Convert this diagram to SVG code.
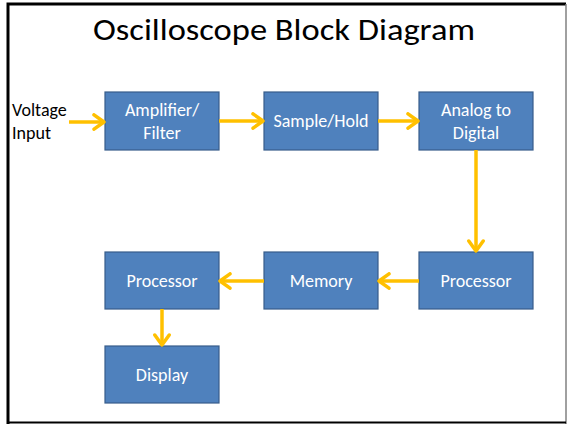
<svg xmlns="http://www.w3.org/2000/svg" width="568" height="424" viewBox="0 0 568 424">
<defs>
<style>
.box{fill:#4F81BD;stroke:#385D8A;stroke-width:1.2}
.lbl{font-family:Carlito,"Liberation Sans",Arial,sans-serif;font-size:18px;fill:#FFFFFF;text-anchor:middle}
.conn{stroke:#FFC000;stroke-width:3.5;fill:none;marker-end:url(#ah)}
</style>
<marker id="ah" viewBox="0 0 14 18" refX="12" refY="9" markerWidth="14" markerHeight="18" markerUnits="userSpaceOnUse" orient="auto">
<path d="M2,1.8 L12,9 L2,16.2" fill="none" stroke="#FFC000" stroke-width="3.5" stroke-linecap="round" stroke-linejoin="round"/>
</marker>
</defs>
<rect x="0" y="0" width="568" height="424" fill="#FFFFFF"/>
<path d="M8,424 L8,4 L566,4" fill="none" stroke="#000000" stroke-width="3"/>
<line x1="566" y1="4" x2="566" y2="424" stroke="#808080" stroke-width="1.5"/>
<line x1="8" y1="422.5" x2="566" y2="422.5" stroke="#000000" stroke-width="2"/>
<text x="284" y="40" font-family="Carlito,'Liberation Sans',Arial,sans-serif" font-size="31" text-anchor="middle" textLength="382" lengthAdjust="spacingAndGlyphs" fill="#000000">Oscilloscope Block Diagram</text>
<g id="voltage-input">
<text x="12" y="116" font-family="Carlito,'Liberation Sans',Arial,sans-serif" font-size="18" fill="#000000">Voltage</text>
<text x="12" y="139" font-family="Carlito,'Liberation Sans',Arial,sans-serif" font-size="18" fill="#000000">Input</text>
</g>
<g id="amplifier">
<rect class="box" x="105" y="92" width="114" height="58"/>
<text class="lbl" x="162" y="116">Amplifier/</text>
<text class="lbl" x="162" y="139">Filter</text>
</g>
<g id="sample-hold">
<rect class="box" x="264" y="92" width="114" height="58"/>
<text class="lbl" x="321" y="127">Sample/Hold</text>
</g>
<g id="adc">
<rect class="box" x="419" y="92" width="114" height="58"/>
<text class="lbl" x="476" y="116">Analog to</text>
<text class="lbl" x="476" y="139">Digital</text>
</g>
<g id="processor-right">
<rect class="box" x="419" y="252" width="114" height="57"/>
<text class="lbl" x="476" y="287">Processor</text>
</g>
<g id="memory">
<rect class="box" x="264" y="252" width="114" height="57"/>
<text class="lbl" x="321" y="287">Memory</text>
</g>
<g id="processor-left">
<rect class="box" x="105" y="252" width="114" height="57"/>
<text class="lbl" x="162" y="287">Processor</text>
</g>
<g id="display">
<rect class="box" x="105" y="346" width="114" height="57"/>
<text class="lbl" x="162" y="381">Display</text>
</g>
<g id="connectors">
<line class="conn" x1="69" y1="122" x2="104" y2="122"/>
<line class="conn" x1="219" y1="121" x2="263" y2="121"/>
<line class="conn" x1="378" y1="121" x2="418" y2="121"/>
<line class="conn" x1="476" y1="150" x2="476" y2="251"/>
<line class="conn" x1="419" y1="281" x2="379" y2="281"/>
<line class="conn" x1="264" y1="281" x2="220" y2="281"/>
<line class="conn" x1="162" y1="309" x2="162" y2="345"/>
</g>
</svg>
